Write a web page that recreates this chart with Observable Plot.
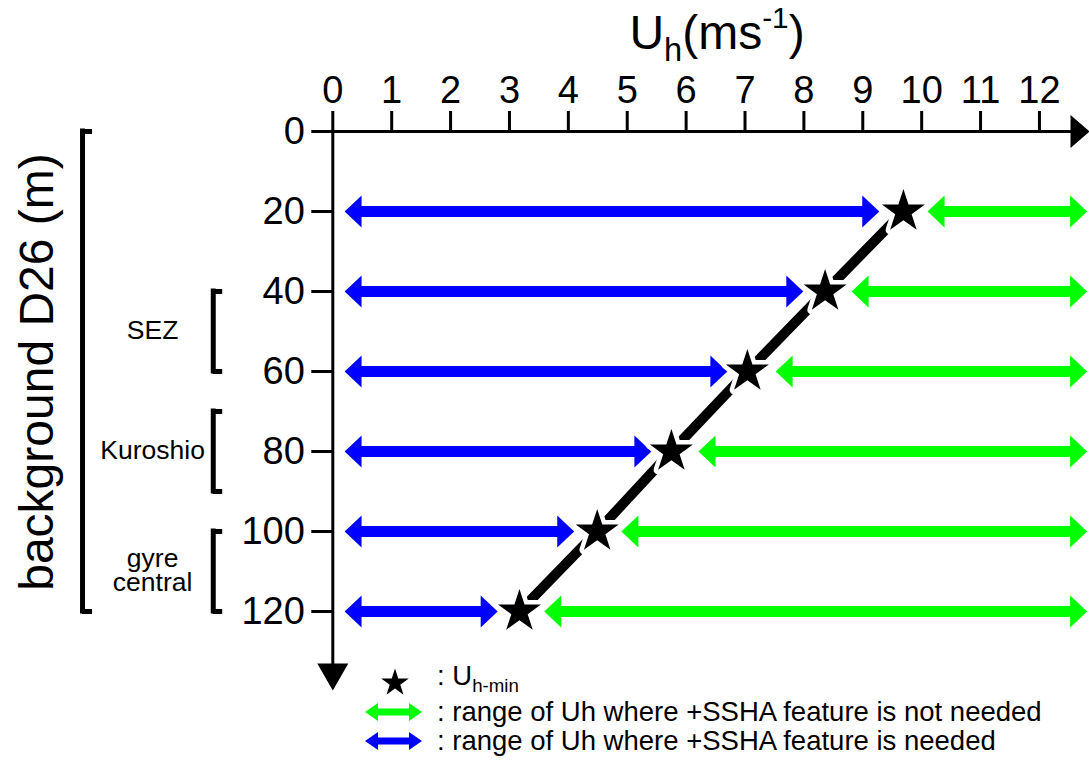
<!DOCTYPE html>
<html>
<head>
<meta charset="utf-8">
<script src="https://cdn.jsdelivr.net/npm/d3@7"></script>
<script src="https://cdn.jsdelivr.net/npm/@observablehq/plot@0.6"></script>
<style>
  body { margin: 0; background: #fff; font-family: "Liberation Sans", Arial, Helvetica, sans-serif; color: #000; }
  #wrap { position: relative; width: 1089px; height: 761px; overflow: hidden; }
  #wrap > svg { position: absolute; left: 0; top: 0; }
  .abs { position: absolute; white-space: nowrap; }
  #title { left: 567px; width: 300px; top: 9px; text-align: center; font-size: 48px; line-height: 48px; }
  #title .sb { font-size: 0.68em; position: relative; top: 0.36em; }
  #title .sp { font-size: 0.62em; position: relative; top: -0.72em; }
  #ylab { left: 37px; top: 372px; font-size: 48px; line-height: 48px; transform: translate(-50%, -50%) rotate(-90deg); }
  .leg { left: 437px; font-size: 27.5px; line-height: 28px; }
  .leg .sb { font-size: 0.68em; position: relative; top: 0.35em; }
  .icon { position: absolute; }
</style>
</head>
<body>
<div id="wrap"></div>
<script>
// ---------------- data ----------------
const depths = [20, 40, 60, 80, 100, 120];                 // background D26 (m)
const uhMin = [9.69, 8.36, 7.04, 5.75, 4.49, 3.17];         // star: U_h-min
const neededStart = [0.2, 0.2, 0.2, 0.2, 0.2, 0.2];         // blue arrow
const neededEnd = [9.28, 7.99, 6.70, 5.41, 4.10, 2.80];
const notNeededStart = [10.10, 8.81, 7.52, 6.21, 4.90, 3.59]; // green arrow
const notNeededEnd = [12.81, 12.81, 12.81, 12.81, 12.81, 12.81];
const xTicks = [0, 1, 2, 3, 4, 5, 6, 7, 8, 9, 10, 11, 12];
const yTicks = [0, 20, 40, 60, 80, 100, 120];
const regionLabels = ["SEZ", "Kuroshio", "gyre\ncentral"];
const regionTop = [40, 70, 100];
const regionBottom = [60, 90, 120];
const allTop = [0], allBottom = [120];
const xAxisEnd = 12.85, yAxisEnd = 139.75;

const blue = "#0000ff", green = "#00ff00";

const rows = depths.map((d, i) => ({
  depth: d, uh: uhMin[i],
  n0: neededStart[i], n1: neededEnd[i],
  g0: notNeededStart[i], g1: notNeededEnd[i]
}));
const regions = regionLabels.map((l, i) => ({label: l, top: regionTop[i], bottom: regionBottom[i], mid: (regionTop[i] + regionBottom[i]) / 2}));
const big = allTop.map((t, i) => ({top: t, bottom: allBottom[i]}));

// arrow-head symbol pointing to +x, tip at origin
const head = (len, hw) => ({
  draw(ctx) { ctx.moveTo(0, 0); ctx.lineTo(-len, -hw); ctx.lineTo(-len, hw); ctx.closePath(); }
});
const arrowHead = head(17, 16);

function doubleArrow(key0, key1, color) {
  return [
    Plot.ruleY(rows, {y: "depth", x1: key0, x2: key1, stroke: color, strokeWidth: 11, insetLeft: 12, insetRight: 12}),
    Plot.dot(rows, {x: key1, y: "depth", symbol: arrowHead, rotate: 0, fill: color, stroke: "none", r: 5}),
    Plot.dot(rows, {x: key0, y: "depth", symbol: arrowHead, rotate: 180, fill: color, stroke: "none", r: 5})
  ];
}

const chart = Plot.plot({
  width: 1089,
  height: 761,
  marginLeft: 332.3,
  marginRight: 0,
  marginTop: 131,
  marginBottom: 70,
  x: {domain: [0, xAxisEnd]},
  y: {domain: [0, 140], reverse: true},
  style: {fontFamily: "'Liberation Sans', Arial, Helvetica, sans-serif", background: "white", overflow: "visible"},
  marks: [
    // axes
    Plot.axisX({anchor: "top", ticks: xTicks, tickSize: 21, tickPadding: 8, fontSize: 38, strokeWidth: 3, label: null}),
    Plot.axisY({anchor: "left", ticks: yTicks, tickSize: 21, tickPadding: 7, fontSize: 38, strokeWidth: 3, label: null}),
    Plot.ruleY([0], {x1: 0, x2: xAxisEnd - 0.3, strokeWidth: 3}),
    Plot.ruleX([0], {y1: 0, y2: yAxisEnd - 6, strokeWidth: 3}),
    Plot.dot([0], {x: xAxisEnd, y: 0, symbol: head(19, 16.5), rotate: 0, fill: "black", stroke: "none", r: 5}),
    Plot.dot([0], {x: 0, y: yAxisEnd, symbol: head(27, 15.5), rotate: 90, fill: "black", stroke: "none", r: 5}),
    // brackets
    Plot.ruleX(big, {x: -4.25, y1: "top", y2: "bottom", strokeWidth: 5, strokeLinecap: "square"}),
    Plot.ruleY(big, {y: "top", x1: -4.25, x2: -4.08, strokeWidth: 5}),
    Plot.ruleY(big, {y: "bottom", x1: -4.25, x2: -4.08, strokeWidth: 5}),
    Plot.ruleX(regions, {x: -2.03, y1: "top", y2: "bottom", strokeWidth: 5, strokeLinecap: "square"}),
    Plot.ruleY(regions, {y: "top", x1: -2.03, x2: -1.87, strokeWidth: 5}),
    Plot.ruleY(regions, {y: "bottom", x1: -2.03, x2: -1.87, strokeWidth: 5}),
    Plot.text(regions, {x: -3.06, y: "mid", text: "label", fontSize: 26.5, lineHeight: 0.88, fill: "black"}),
    // arrows
    ...doubleArrow("n0", "n1", blue),
    ...doubleArrow("g0", "g1", green),
    // U_h-min line and stars
    Plot.line(rows, {x: "uh", y: "depth", stroke: "black", strokeWidth: 10}),
    Plot.dot(rows, {x: "uh", y: "depth", symbol: "star", r: 13.5, fill: "black", stroke: "white", strokeWidth: 9, paintOrder: "stroke", strokeLinejoin: "round"})
  ]
});

const wrap = document.getElementById("wrap");
wrap.appendChild(chart);

// title and y label
wrap.insertAdjacentHTML("beforeend",
  '<div id="title" class="abs">U<span class="sb">h</span>(ms<span class="sp">-1</span>)</div>' +
  '<div id="ylab" class="abs">background D26 (m)</div>');

// legend
const legendRows = [
  {kind: "star", text: ': U<span class="sb">h-min</span>', top: 662, cy: 683},
  {kind: green, text: ': range of Uh where +SSHA feature is not needed', top: 698, cy: 712},
  {kind: blue, text: ': range of Uh where +SSHA feature is needed', top: 727, cy: 741}
];
legendRows.forEach(r => {
  const s = d3.create("svg").attr("class", "icon").attr("width", 70).attr("height", 36)
    .style("left", "358px").style("top", (r.cy - 18) + "px");
  if (r.kind === "star") {
    s.append("path").attr("transform", "translate(37,18)")
      .attr("d", d3.symbol(d3.symbolStar, 14.5 * 14.5 / 0.8908)());
  } else {
    const x0 = 7, x1 = 64, hl = 13, hw = 9, sw = 7, cy = 18;
    s.append("path").attr("fill", r.kind).attr("d",
      `M${x0},${cy} L${x0 + hl},${cy - hw} L${x0 + hl},${cy - sw / 2} L${x1 - hl},${cy - sw / 2} L${x1 - hl},${cy - hw} L${x1},${cy} L${x1 - hl},${cy + hw} L${x1 - hl},${cy + sw / 2} L${x0 + hl},${cy + sw / 2} L${x0 + hl},${cy + hw} Z`);
  }
  wrap.appendChild(s.node());
  wrap.insertAdjacentHTML("beforeend", `<div class="abs leg" style="top:${r.top}px">${r.text}</div>`);
});
</script>
</body>
</html>
